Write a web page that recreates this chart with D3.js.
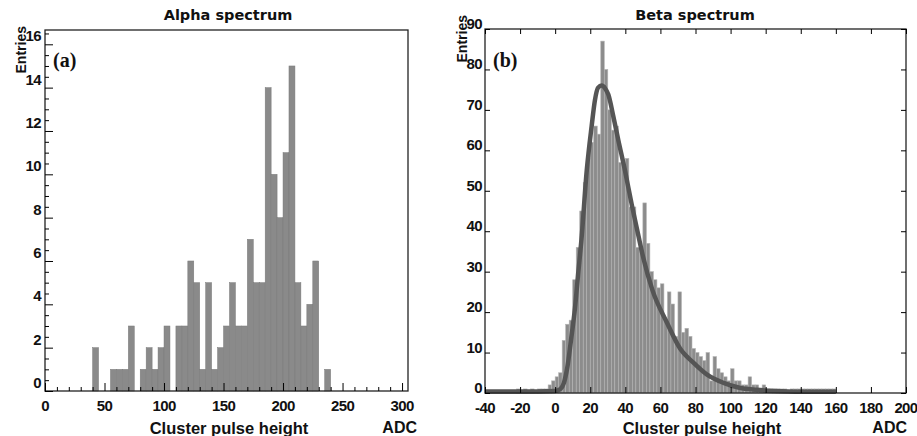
<!DOCTYPE html>
<html>
<head>
<meta charset="utf-8">
<script src="https://cdn.jsdelivr.net/npm/d3@7"></script>
<style>
  body { margin: 0; background: #fff; }
  svg text { font-family: "Liberation Sans", Arial, sans-serif; font-weight: bold; fill: #111; }
  .tl { letter-spacing: -0.6px; }
</style>
</head>
<body>
<svg id="chart" width="917" height="436"></svg>
<script>
// ---- alpha spectrum: 5 ADC bins starting at 0
const alphaBinWidth = 5
const alphaCounts = [
  0, 0, 0, 0, 0, 0, 0, 0, 2, 0,      // 0 - 45
  0, 1, 1, 1, 3, 0, 1, 2, 1, 2,      // 50 - 95
  3, 0, 3, 3, 6, 5, 1, 5, 1, 2,      // 100 - 145
  3, 5, 3, 3, 7, 5, 5, 14, 10, 8,    // 150 - 195
  11, 15, 5, 3, 4, 6, 0, 1, 0, 0     // 200 - 245
]

// ---- beta spectrum: 2 ADC bins starting at -40
const betaBinWidth = 2
const betaStart = -40
const betaCounts = [
  0, 0, 0, 0, 0, 0, 0, 0, 0, 1,      // -40 .. -22
  0, 1, 0, 1, 0, 1, 1, 1, 2, 3,      // -20 .. -2
  4, 5, 13, 17, 18, 28, 36, 45, 52, 58,   // 0 .. 18
  62, 66, 64, 87, 80, 70, 65, 66, 57, 57, // 20 .. 38
  58, 46, 46, 36, 36, 47, 37, 30, 28, 26, // 40 .. 58
  27, 18, 25, 22, 14, 25, 15, 16, 14, 11, // 60 .. 78
  10, 9, 8, 10, 3, 9, 6, 5, 4, 3,         // 80 .. 98
  6, 3, 3, 2, 2, 4, 2, 2, 1, 2,           // 100 .. 118
  1, 1, 1, 1, 1, 1, 0, 1, 1, 1,           // 120 .. 138
  1, 1, 1, 1, 1, 1, 1, 1, 1, 1            // 140 .. 158
]

// fitted curve
const fitX = [-40, -10, 0, 3, 5, 7, 9, 11.3, 13, 15, 18, 20.8, 22.7, 24.5, 26.5, 28.5, 30.3, 33.2, 36, 39.8, 43.6, 47.4, 50.2, 55.4, 63.6, 71.2, 78.8, 86.4, 96, 105, 115, 125, 140, 160]
const fitY = [0.4, 0.4, 0.5, 1, 2.5, 6.5, 13, 21, 29, 38, 55, 66, 72.5, 75.5, 76, 75.3, 73.8, 68.3, 62.5, 55, 46.7, 39, 33.5, 25.5, 17.5, 11, 7.5, 4.6, 2.5, 1.3, 0.8, 0.5, 0.3, 0.3]

const alphaXTicks = [0, 50, 100, 150, 200, 250, 300]
const alphaYTicks = [0, 2, 4, 6, 8, 10, 12, 14, 16]
const betaXTicks = [-40, -20, 0, 20, 40, 60, 80, 100, 120, 140, 160, 180, 200]
const betaYTicks = [0, 10, 20, 30, 40, 50, 60, 70, 80, 90]

const svg = d3.select('#chart')

// ================= panel (a) =================
const xA = d3.scaleLinear().domain([0, 305]).range([45, 408])
const yA = d3.scaleLinear().domain([0, 16.66]).range([391, 30])

const gA = svg.append('g')

gA.append('g')
  .selectAll('rect')
  .data(alphaCounts.map((c, i) => ({ x0: i * alphaBinWidth, c: c })).filter(d => d.c > 0))
  .join('rect')
  .attr('x', d => xA(d.x0))
  .attr('width', d => xA(d.x0 + alphaBinWidth) - xA(d.x0))
  .attr('y', d => yA(d.c))
  .attr('height', d => yA(0) - yA(d.c))
  .attr('fill', '#8a8a8a')
  .attr('stroke', '#7a7a7a')
  .attr('stroke-width', 0.5)

// frame
gA.append('rect')
  .attr('x', xA(0)).attr('y', yA.range()[1])
  .attr('width', xA.range()[1] - xA(0))
  .attr('height', yA(0) - yA.range()[1])
  .attr('fill', 'none').attr('stroke', '#222').attr('stroke-width', 1.3)

// x ticks (inward)
const axA = d3.axisBottom(xA).tickValues(d3.range(0, 301, 10)).tickSize(-4).tickFormat('')
gA.append('g').attr('transform', `translate(0,${yA(0)})`).call(axA)
  .call(g => g.select('.domain').remove())
  .call(g => g.selectAll('.tick line').filter(d => d % 50 === 0).attr('y2', -8))
gA.append('g').selectAll('text').data(alphaXTicks).join('text')
  .attr('class', 'tl')
  .attr('x', d => xA(d)).attr('y', 411)
  .attr('text-anchor', 'middle').attr('font-size', 15)
  .text(d => d)

// y ticks (inward)
const ayA = d3.axisLeft(yA).tickValues(d3.range(0, 16.6, 0.5)).tickSize(-4).tickFormat('')
gA.append('g').attr('transform', `translate(${xA(0)},0)`).call(ayA)
  .call(g => g.select('.domain').remove())
  .call(g => g.selectAll('.tick line').filter(d => d % 2 === 0).attr('x2', 8))
gA.append('g').selectAll('text').data(alphaYTicks).join('text')
  .attr('class', 'tl')
  .attr('x', 41).attr('y', d => yA(d) - 7)
  .attr('text-anchor', 'end').attr('dominant-baseline', 'middle').attr('font-size', 15)
  .text(d => d)

// titles
svg.append('text').attr('x', 228).attr('y', 20).attr('text-anchor', 'middle')
  .style('font-family', '"DejaVu Sans", sans-serif').attr('font-size', 14.5).text('Alpha spectrum')
svg.append('text').attr('x', 229).attr('y', 434).attr('text-anchor', 'middle')
  .attr('font-size', 16.5).text('Cluster pulse height')
svg.append('text').attr('x', 417).attr('y', 433).attr('text-anchor', 'end')
  .attr('font-size', 16).text('ADC')
svg.append('text').attr('transform', 'translate(26,26) rotate(-90)').attr('text-anchor', 'end')
  .attr('font-size', 14).text('Entries')
svg.append('text').attr('x', 53).attr('y', 67)
  .style('font-family', '"Liberation Serif", "Times New Roman", serif').attr('font-size', 20).text('(a)')

// ================= panel (b) =================
const xB = d3.scaleLinear().domain([-40, 200]).range([485, 906])
const yB = d3.scaleLinear().domain([0, 90]).range([393, 29])

const gB = svg.append('g')

gB.append('g')
  .selectAll('rect')
  .data(betaCounts.map((c, i) => ({ x0: betaStart + i * betaBinWidth, c: c })).filter(d => d.c > 0))
  .join('rect')
  .attr('x', d => xB(d.x0))
  .attr('width', d => xB(d.x0 + betaBinWidth) - xB(d.x0))
  .attr('y', d => yB(d.c))
  .attr('height', d => yB(0) - yB(d.c))
  .attr('fill', '#8c8c8c')
  .attr('stroke', '#b4b4b4')
  .attr('stroke-width', 0.6)

// fit curve
const fitLine = d3.line()
  .x(d => xB(d[0]))
  .y(d => yB(d[1]))
  .curve(d3.curveMonotoneX)
gB.append('path')
  .datum(d3.zip(fitX, fitY))
  .attr('d', fitLine)
  .attr('fill', 'none')
  .attr('stroke', '#555')
  .attr('stroke-width', 4.5)
  .attr('stroke-linejoin', 'round')

gB.append('rect')
  .attr('x', xB(-40)).attr('y', yB(90))
  .attr('width', xB(200) - xB(-40))
  .attr('height', yB(0) - yB(90))
  .attr('fill', 'none').attr('stroke', '#222').attr('stroke-width', 1.3)

// ticks on all four sides
gB.append('g').attr('transform', `translate(0,${yB(0)})`)
  .call(d3.axisBottom(xB).tickValues(betaXTicks).tickSize(-6).tickFormat(''))
  .call(g => g.select('.domain').remove())
gB.append('g').attr('transform', `translate(0,${yB(90)})`)
  .call(d3.axisTop(xB).tickValues(betaXTicks).tickSize(-5).tickFormat(''))
  .call(g => g.select('.domain').remove())
gB.append('g').attr('transform', `translate(${xB(-40)},0)`)
  .call(d3.axisLeft(yB).tickValues(betaYTicks).tickSize(-5).tickFormat(''))
  .call(g => g.select('.domain').remove())
gB.append('g').attr('transform', `translate(${xB(200)},0)`)
  .call(d3.axisRight(yB).tickValues(betaYTicks).tickSize(-5).tickFormat(''))
  .call(g => g.select('.domain').remove())

gB.append('g').selectAll('text').data(betaXTicks).join('text')
  .attr('class', 'tl')
  .attr('x', d => xB(d)).attr('y', 413)
  .attr('text-anchor', 'middle').attr('font-size', 15)
  .text(d => d)
gB.append('g').selectAll('text').data(betaYTicks).join('text')
  .attr('class', 'tl')
  .attr('x', 482).attr('y', d => yB(d) - 4)
  .attr('text-anchor', 'end').attr('dominant-baseline', 'middle').attr('font-size', 15)
  .text(d => d)

svg.append('text').attr('x', 695).attr('y', 20).attr('text-anchor', 'middle')
  .style('font-family', '"DejaVu Sans", sans-serif').attr('font-size', 14.5).text('Beta spectrum')
svg.append('text').attr('x', 702).attr('y', 434).attr('text-anchor', 'middle')
  .attr('font-size', 16.5).text('Cluster pulse height')
svg.append('text').attr('x', 907).attr('y', 433).attr('text-anchor', 'end')
  .attr('font-size', 16).text('ADC')
svg.append('text').attr('transform', 'translate(467,15) rotate(-90)').attr('text-anchor', 'end')
  .attr('font-size', 14).text('Entries')
svg.append('text').attr('x', 493).attr('y', 67)
  .style('font-family', '"Liberation Serif", "Times New Roman", serif').attr('font-size', 20).text('(b)')
</script>
</body>
</html>
